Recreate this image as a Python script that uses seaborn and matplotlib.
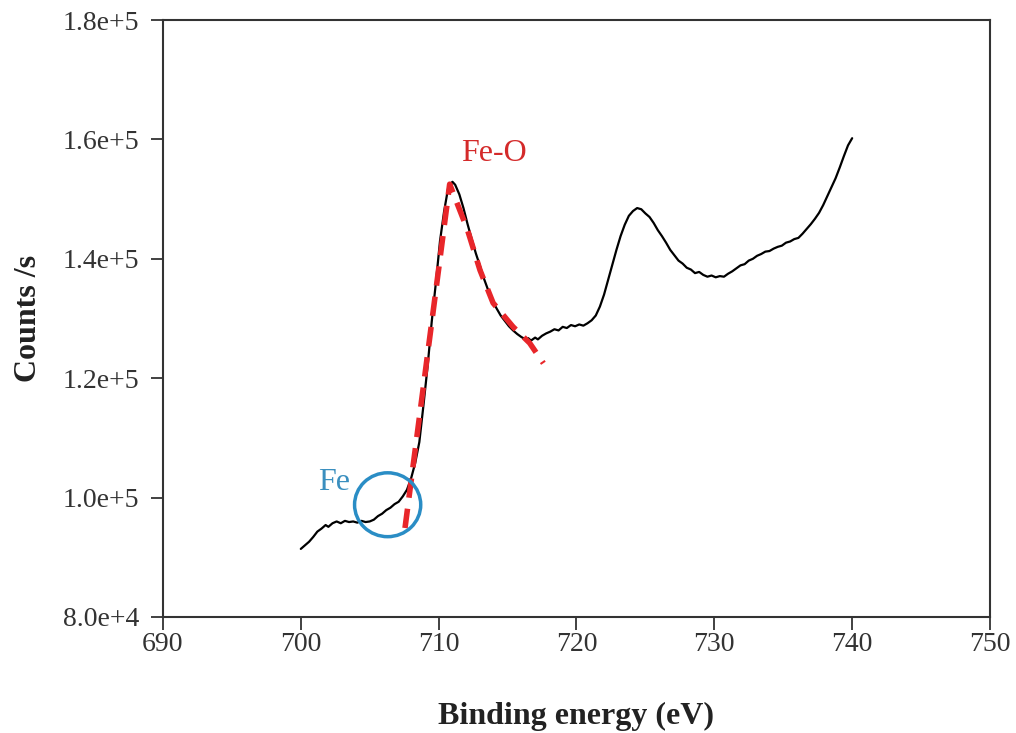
import numpy as np
import pandas as pd
import matplotlib
matplotlib.use("Agg")
import matplotlib.pyplot as plt
import seaborn as sns
from matplotlib.patches import Ellipse

# ---- data ----
energy = [700.0, 700.3, 700.6, 700.9, 701.2, 701.5, 701.8, 702.0, 702.3, 702.6, 702.9, 703.2,
          703.5, 703.8, 704.1, 704.4, 704.7, 705.0, 705.3, 705.6, 705.9, 706.2, 706.5, 706.8,
          707.1, 707.4, 707.7, 708.0, 708.3, 708.6, 708.9, 709.2, 709.5, 709.8, 710.1, 710.4,
          710.7, 711.0, 711.2, 711.5, 711.8, 712.1, 712.4, 712.7, 713.0, 713.3, 713.6, 713.9,
          714.2, 714.5, 714.8, 715.1, 715.4, 715.7, 716.0, 716.3, 716.5, 716.7, 717.0, 717.2,
          717.5, 717.8, 718.1, 718.4, 718.7, 719.0, 719.3, 719.6, 719.9, 720.2, 720.5, 720.8,
          721.1, 721.4, 721.7, 722.0, 722.3, 722.6, 722.9, 723.2, 723.5, 723.8, 724.1, 724.4,
          724.7, 725.0, 725.3, 725.6, 725.9, 726.2, 726.5, 726.8, 727.1, 727.4, 727.7, 728.0,
          728.3, 728.6, 728.9, 729.2, 729.5, 729.8, 730.1, 730.4, 730.7, 731.0, 731.3, 731.6,
          731.9, 732.2, 732.5, 732.8, 733.1, 733.4, 733.7, 734.0, 734.3, 734.6, 734.9, 735.2,
          735.5, 735.8, 736.1, 736.4, 736.7, 737.0, 737.3, 737.6, 737.9, 738.2, 738.5, 738.8,
          739.1, 739.4, 739.7, 740.0]
counts = [91400, 92000, 92600, 93400, 94300, 94800, 95400, 95100, 95700, 96000, 95700, 96100,
          95900, 96000, 95800, 96100, 95900, 96000, 96300, 96900, 97300, 97900, 98300, 98900,
          99300, 100200, 101300, 103200, 105800, 109300, 115500, 122000, 129500, 136000, 143000, 148000,
          152000, 152900, 152400, 150800, 148500, 145800, 143300, 140900, 138800, 136600, 134700, 133000,
          131700, 130500, 129600, 128700, 128000, 127400, 126900, 126500, 126700, 126300, 126800, 126500,
          127100, 127500, 127800, 128200, 128000, 128600, 128400, 128900, 128700, 129000, 128800, 129200,
          129700, 130500, 132000, 134000, 136500, 139000, 141500, 143800, 145700, 147200, 148000, 148500,
          148300, 147600, 147000, 146000, 144800, 143800, 142700, 141500, 140600, 139700, 139200, 138500,
          138200, 137600, 137800, 137300, 137000, 137200, 136900, 137100, 137000, 137500, 137900, 138400,
          138900, 139100, 139700, 140000, 140500, 140800, 141200, 141300, 141700, 142000, 142200, 142700,
          142900, 143300, 143500, 144200, 145000, 145800, 146700, 147700, 149000, 150500, 152000, 153500,
          155300, 157200, 159000, 160200]

# Fe-O guide (red dashed)
guide_energy = [707.56, 710.8, 712.1, 713.0, 713.95, 715.4, 716.6, 717.6]
guide_counts = [94900, 152500, 144800, 138100, 132600, 128600, 125900, 122500]

# Fe marker (blue ellipse): center and size in data units
fe_center = (706.3, 98800)
fe_size = (4.8, 10700)

x_ticks = [690, 700, 710, 720, 730, 740, 750]
y_ticks = [80000, 100000, 120000, 140000, 160000, 180000]
y_tick_labels = ["8.0e+4", "1.0e+5", "1.2e+5", "1.4e+5", "1.6e+5", "1.8e+5"]

# ---- plotting ----
sns.set_style("white")
plt.rcParams['font.family'] = ['Liberation Serif', 'DejaVu Serif']

fig = plt.figure(figsize=(10.16, 7.33), dpi=100)
ax = fig.add_axes([0.1604, 0.1583, 0.8140, 0.8144])

df = pd.DataFrame({"energy": energy, "counts": counts})
sns.lineplot(data=df, x="energy", y="counts", ax=ax, color="black", linewidth=1.6)

gdf = pd.DataFrame({"energy": guide_energy, "counts": guide_counts})
sns.lineplot(data=gdf, x="energy", y="counts", ax=ax, color="#e8262a", linewidth=4,
             linestyle=(0, (3.5, 2)))

ax.add_patch(Ellipse(fe_center, fe_size[0], fe_size[1], fill=False,
                     edgecolor="#2a8dc5", linewidth=2.5, zorder=5))

ax.text(702.4, 102500, "Fe", color="#3a8fbf", fontsize=23, ha="center", va="center")
ax.text(714.0, 157700, "Fe-O", color="#d42a2a", fontsize=23, ha="center", va="center")

ax.set_xlim(690, 750)
ax.set_ylim(80000, 180000)
ax.set_xticks(x_ticks)
ax.set_xticklabels([str(v) for v in x_ticks])
ax.set_yticks(y_ticks)
ax.set_yticklabels(y_tick_labels)
ax.tick_params(axis="both", direction="out", length=9, width=1.3, labelsize=20,
               colors="#333333", labelcolor="#333333", bottom=True, left=True)
ax.tick_params(axis="x", pad=2)
ax.tick_params(axis="y", pad=8)

for s in ax.spines.values():
    s.set_visible(True)
    s.set_color("#333333")
    s.set_linewidth(1.5)

ax.set_xlabel("Binding energy (eV)", fontsize=23, fontweight="bold", labelpad=32,
              color="#222222")
ax.set_ylabel("Counts /s", fontsize=23, fontweight="bold", labelpad=14,
              color="#222222")

fig.savefig("out.png", dpi=100)
